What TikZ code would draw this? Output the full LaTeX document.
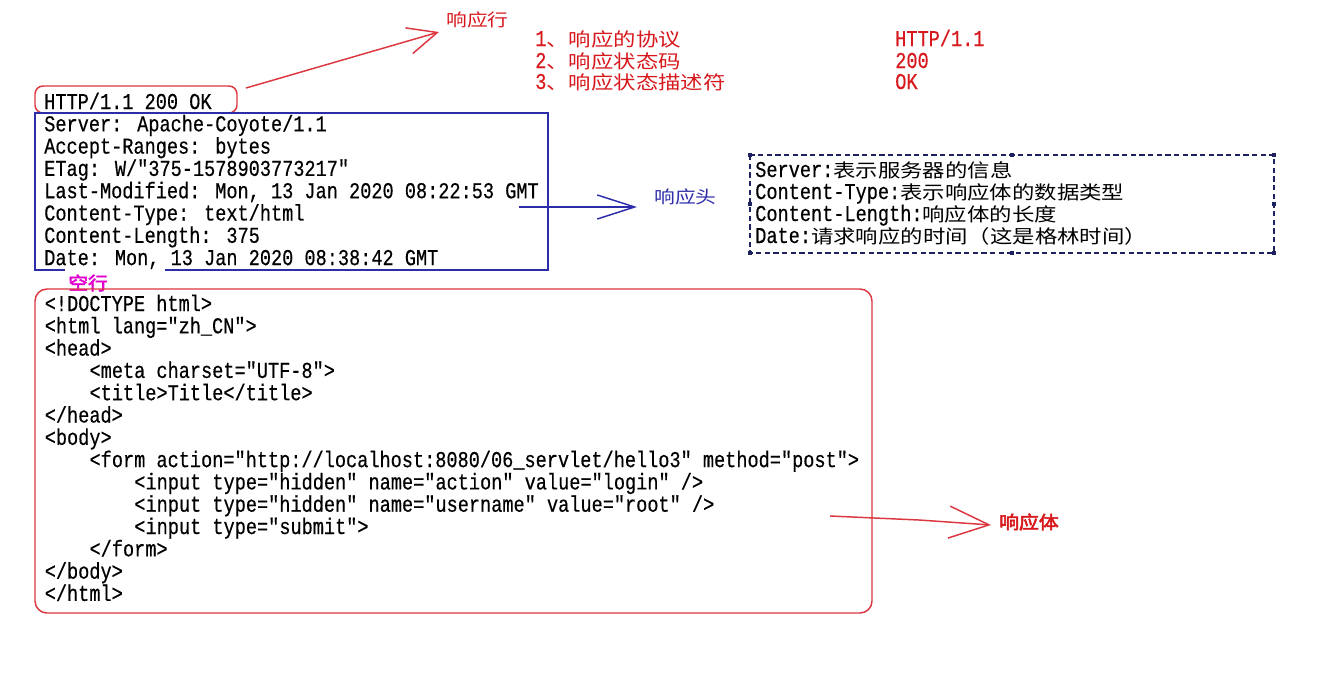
\documentclass[tikz,border=0pt]{standalone}
\usepackage{fontspec}
\usetikzlibrary{arrows.meta}

\newfontfamily\codefont[FakeStretch=0.82,FakeBold=0.4]{Liberation Mono}
\newfontfamily\zhfont[FakeStretch=1.2]{Noto Sans CJK SC}
\newfontfamily\zhboldfont[FakeStretch=1.1,FakeBold=3]{Noto Sans CJK SC}
\newcommand{\zh}[1]{{\zhfont\fontsize{14pt}{20pt}\selectfont #1}}

\definecolor{hdrblue}{RGB}{45,45,170}
\definecolor{linered}{RGB}{220,55,65}
\definecolor{txtred}{RGB}{215,25,30}
\definecolor{notenavy}{RGB}{30,35,95}
\definecolor{blankmag}{RGB}{225,0,205}

\tikzset{
  code/.style={font=\codefont\fontsize{17pt}{20pt}\selectfont, inner sep=0pt, anchor=base west},
  redlist/.style={code, text=txtred},
  tag/.style={font=\zhfont\fontsize{13pt}{16pt}\selectfont, inner sep=0pt, anchor=west},
  boldtag/.style={font=\zhboldfont\fontsize{13.5pt}{16pt}\selectfont, inner sep=0pt, anchor=west},
  redline/.style={draw=linered, line width=1.1pt},
  blueline/.style={draw=hdrblue, line width=1.1pt},
  notebox/.style={draw=notenavy, line width=0.8pt, dash pattern=on 4pt off 2.5pt},
}

\begin{document}
\begin{tikzpicture}[x=0.75pt, y=-0.75pt]
  \fill[white] (0,0) rectangle (1339,672);
  \useasboundingbox (0,0) rectangle (1339,672);

  % status line
  \draw[redline, rounded corners=6pt] (35,86) rectangle (237,113);
  \node[code] (status) at (44,109) {HTTP/1.1 200 OK};
  \node[tag, text=txtred] (rlabel) at (446,19.5) {响应行};
  \coordinate (rstart) at (246,88);
  \coordinate (rtip) at (439,32);
  \draw[redline, -{Straight Barb[length=22pt,width=20pt]}] (rstart) -- (rtip);

  \node[redlist] (item1) at (535,46) {1\zh{、响应的协议}};
  \node[redlist] (item2) at (535,68) {2\zh{、响应状态码}};
  \node[redlist] (item3) at (535,89) {3\zh{、响应状态描述符}};
  \node[redlist] (val1) at (895,46) {HTTP/1.1};
  \node[redlist] (val2) at (895,68) {200};
  \node[redlist] (val3) at (895,89) {OK};

  % headers
  \draw[blueline] (65,270) -| (35,113) -| (548,270) -- (165,270);
  \foreach \t [count=\i from 0] in {{Server: Apache-Coyote/1.1},
      {Accept-Ranges: bytes}, {ETag: W/"375-1578903773217"},
      {Last-Modified: Mon, 13 Jan 2020 08:22:53 GMT},
      {Content-Type: text/html}, {Content-Length: 375},
      {Date: Mon, 13 Jan 2020 08:38:42 GMT}}
    \node[code] (hdr\i) at (44,{131.3+22.3*\i}) {\t};
  \node[boldtag, text=blankmag] (blank) at (68,283) {空行};

  \coordinate (hstart) at (519,207);
  \coordinate (htip) at (637,207);
  \node[tag, text=hdrblue] (hlabel) at (654,197) {响应头};
  \draw[blueline, -{Straight Barb[length=28pt,width=18pt]}] (hstart) -- (htip);

  % notes on the headers
  \draw[notebox] (750,155) rectangle (1274,253);
  \foreach \hx/\hy in {750/155, 1012/155, 1274/155, 750/204, 1274/204, 750/253, 1012/253, 1274/253}
    \fill[notenavy] ({\hx-2},{\hy-2}) rectangle ({\hx+2},{\hy+2});
  \foreach \t [count=\i from 0] in {{Server:\zh{表示服务器的信息}},
      {Content-Type:\zh{表示响应体的数据类型}},
      {Content-Length:\zh{响应体的长度}},
      {Date:\zh{请求响应的时间（这是格林时间）}}}
    \node[code] (note\i) at (755,{177+22*\i}) {\t};

  % body
  \draw[redline, rounded corners=9pt] (35,289) rectangle (872,613);
  \foreach \dx/\t [count=\i from 0] in {0/{<!DOCTYPE html>}, 0/{<html lang="zh\_CN">},
      0/{<head>}, 1/{<meta charset="UTF-8">}, 1/{<title>Title</title>}, 0/{</head>},
      0/{<body>}, 1/{<form action="http://localhost:8080/06\_servlet/hello3" method="post">},
      2/{<input type="hidden" name="action" value="login" />},
      2/{<input type="hidden" name="username" value="root" />},
      2/{<input type="submit">}, 1/{</form>}, 0/{</body>}, 0/{</html>}}
    \node[code] (body\i) at ({44.5+44.8*\dx},{311+22.3*\i}) {\t};

  \coordinate (bstart) at (830,516);
  \coordinate (bbend) at (919,520);
  \coordinate (btip) at (991,525);
  \node[boldtag, text=txtred] (blabel) at (999,522) {响应体};
  \draw[redline, -{Straight Barb[length=30pt,width=24pt]}] (bstart) -- (bbend) -- (btip);
\end{tikzpicture}
\end{document}
